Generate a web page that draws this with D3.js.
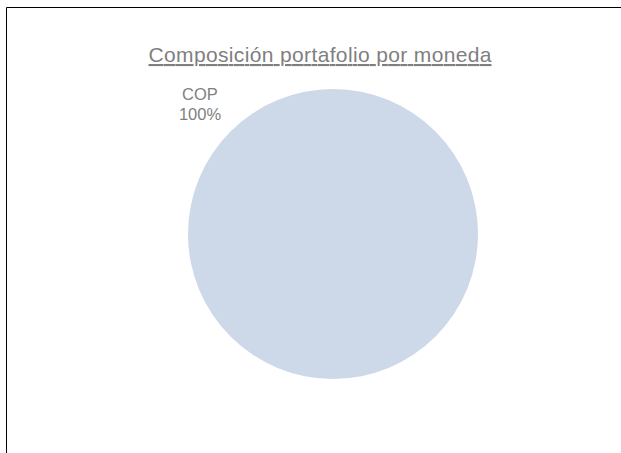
<!DOCTYPE html>
<html><head><meta charset="utf-8">
<script src="https://cdn.jsdelivr.net/npm/d3@7/dist/d3.min.js"></script>
<style>body{margin:0;background:#fff}svg{display:block}</style>
</head><body>
<script>
const categories = ["COP"];
const values = [100];
const labels = ["100%"];
const title = "Composición portafolio por moneda";

const W = 621, H = 453;
const svg = d3.select("body").append("svg").attr("width", W).attr("height", H);
svg.append("rect").attr("width", W).attr("height", H).attr("fill", "#fff");
// frame (left and top visible)
svg.append("path").attr("d", `M6.5,${H} V7.5 H${W}`).attr("fill", "none").attr("stroke", "#000").attr("stroke-width", 1);

svg.append("text").attr("x", 320).attr("y", 62).attr("text-anchor", "middle")
  .attr("font-family", "'Liberation Sans', Arial, sans-serif").attr("font-size", 21)
  .attr("textLength", 343).attr("lengthAdjust", "spacing")
  .attr("fill", "#7f7f7f").attr("text-decoration", "underline").text(title);

const cx = 333, cy = 234, r = 145;
const pie = d3.pie().sort(null)(values);
const arc = d3.arc().innerRadius(0).outerRadius(r);
const g = svg.append("g").attr("transform", `translate(${cx},${cy})`);
g.selectAll("path").data(pie).join("path").attr("d", arc).attr("fill", "#cdd8e9");

const lbl = svg.append("text").attr("text-anchor", "middle")
  .attr("font-family", "'Liberation Sans', Arial, sans-serif").attr("font-size", 16.5).attr("fill", "#7f7f7f");
categories.forEach((c, i) => {
  lbl.append("tspan").attr("x", 200).attr("y", 99.5).text(c);
  lbl.append("tspan").attr("x", 200).attr("y", 120).text(labels[i]);
});
</script>
</body></html>
